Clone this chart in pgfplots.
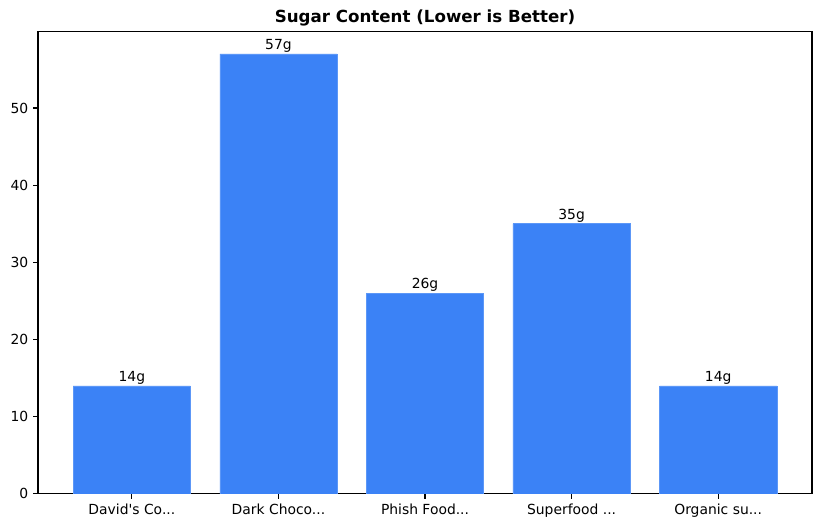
\documentclass[border=0pt]{standalone}
\usepackage{fontspec}
\setmainfont{DejaVu Sans}
\usepackage{pgfplots}
\pgfplotsset{compat=1.18}
\usetikzlibrary{calc}
\definecolor{barblue}{HTML}{3B82F6}
\definecolor{baredge}{HTML}{5C97F7}
\newcommand{\tdots}{...}
\begin{document}
\begin{tikzpicture}
\begin{axis}[
    width=557.3pt, height=332.6pt,
    scale only axis,
    xmin=-0.64, xmax=4.64,
    ymin=0, ymax=59.85,
    xtick={0,1,2,3,4},
    xticklabels={David\textquotesingle s Co\tdots, Dark Choco\tdots, Phish Food\tdots, Superfood \tdots, Organic su\tdots},
    ytick={0,10,20,30,40,50},
    tick align=outside,
    major tick length=3.5pt,
    tick style={black, line width=0.8pt},
    xtick pos=bottom, ytick pos=left,
    axis line style={line width=0.8pt},
    tick label style={font=\fontsize{10}{12}\selectfont},
    /pgf/number format/assume math mode=true,
    title={\textbf{Sugar Content (Lower is Better)}},
    title style={font=\fontsize{12}{14}\selectfont, yshift=-5.5pt},
    ybar, bar width=0.8, bar shift=0pt,
    nodes near coords={\pgfmathprintnumber{\pgfplotspointmeta}g},
    every node near coord/.append style={font=\fontsize{10}{12}\selectfont, black, inner sep=1pt},
]
\addplot[fill=barblue, draw=baredge, line width=0.4pt] coordinates {(0,14) (1,57) (2,26) (3,35) (4,14)};
\end{axis}
\pgfresetboundingbox
\path[use as bounding box] ($(current axis.south west)+(-27.4pt,-24.5pt)$) rectangle ($(current axis.north east)+(7.2pt,23pt)$);
\end{tikzpicture}
\end{document}
